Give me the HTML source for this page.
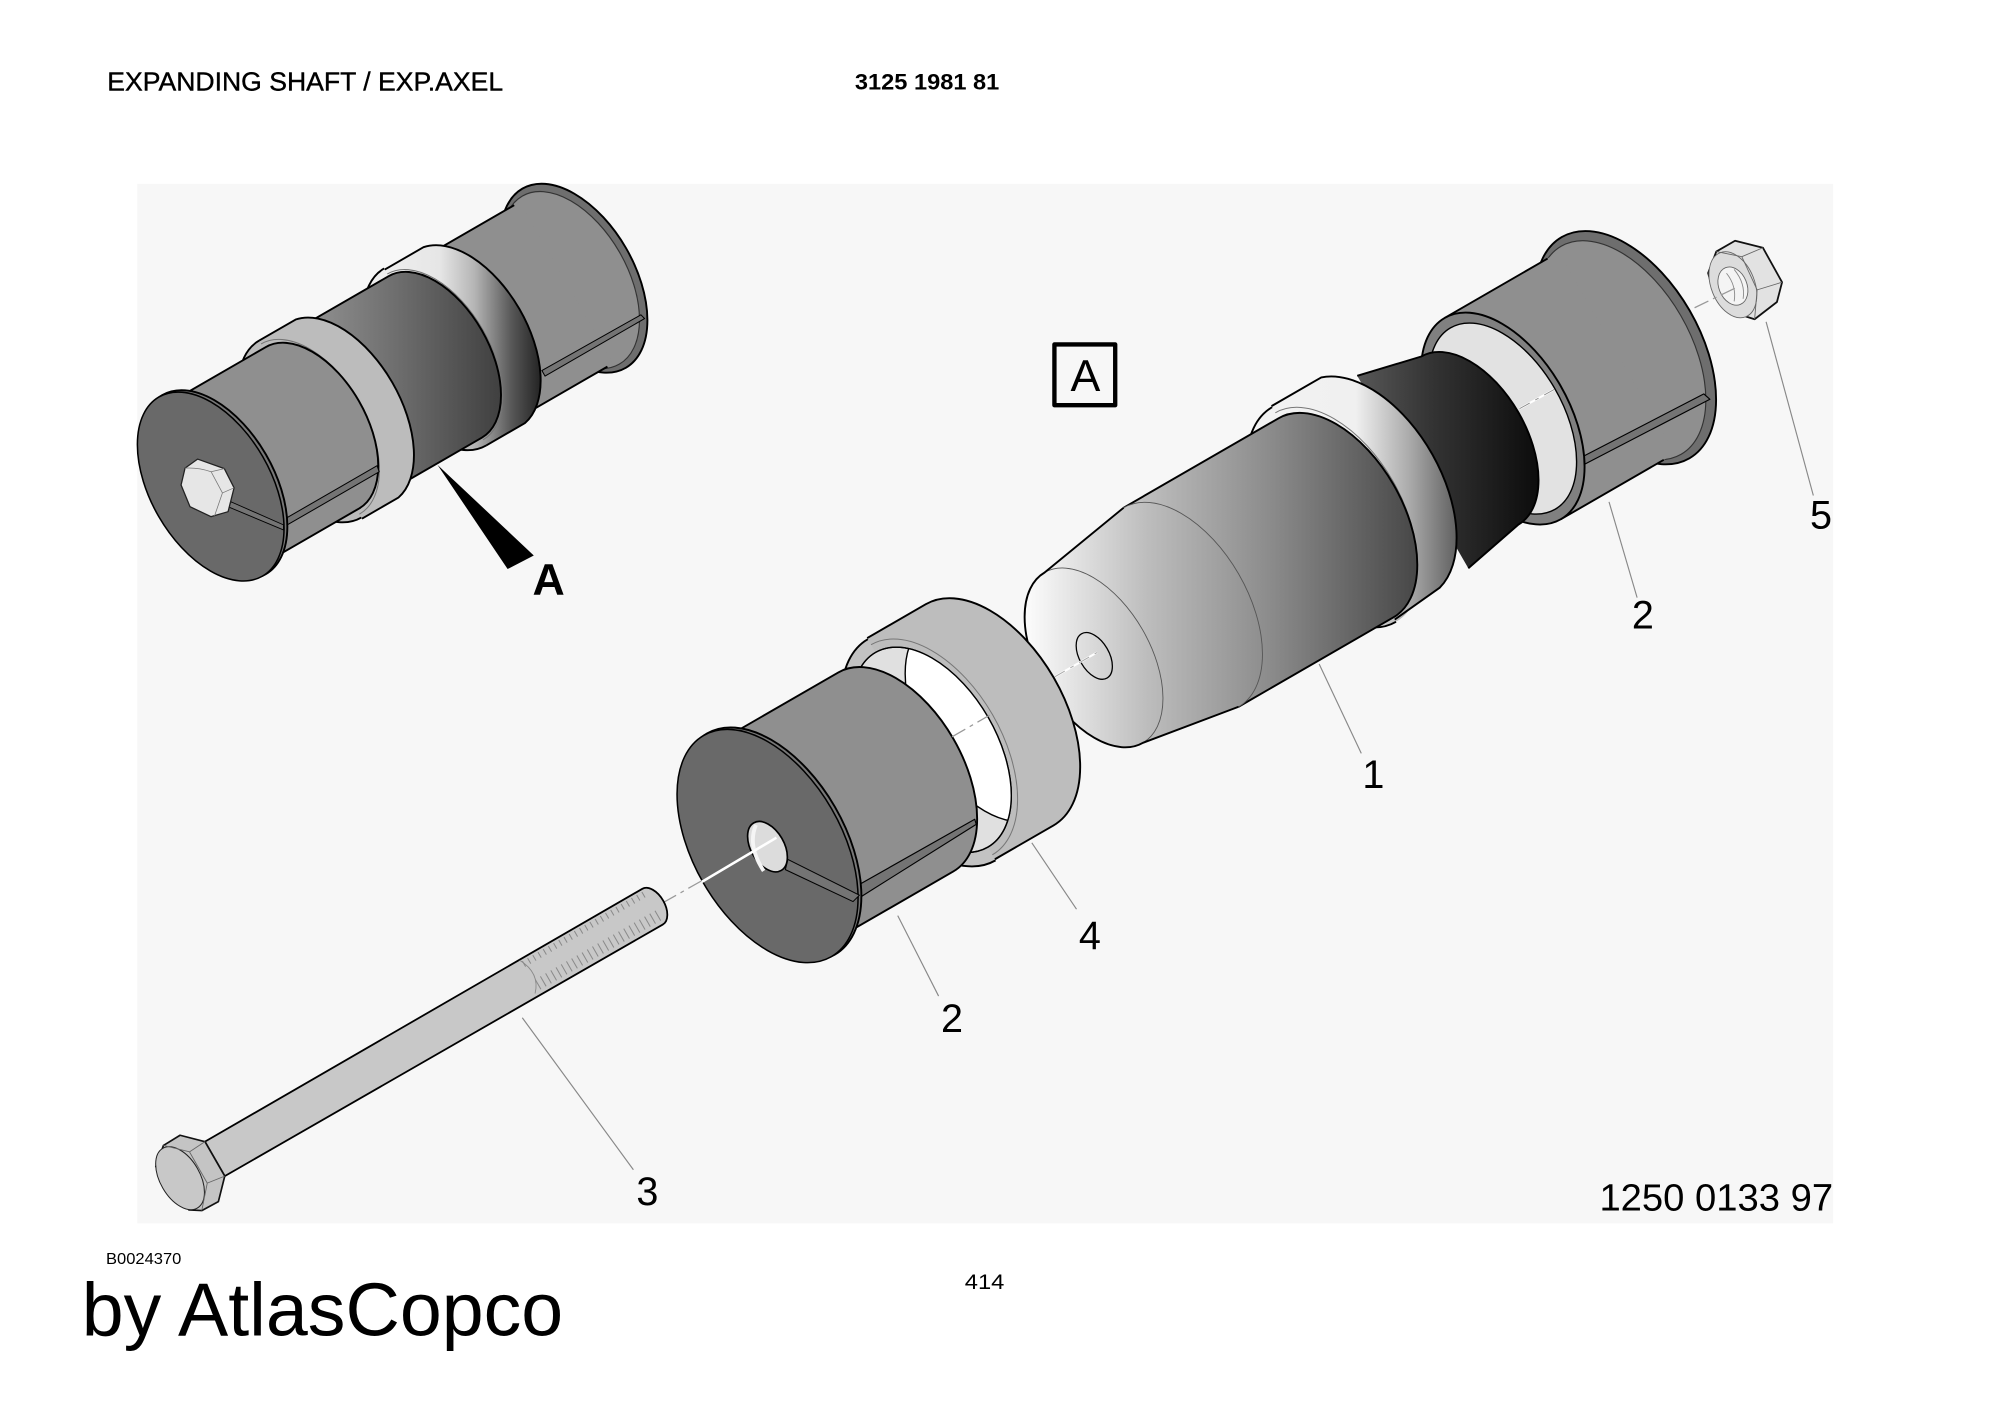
<!DOCTYPE html>
<html><head><meta charset="utf-8"><title>Expanding shaft</title>
<style>html,body{margin:0;padding:0;background:#fff}svg{display:block}text{font-family:"Liberation Sans",sans-serif;fill:#000}</style></head>
<body>
<svg xmlns="http://www.w3.org/2000/svg" width="2000" height="1415" viewBox="0 0 2000 1415">
<defs>
<linearGradient id="gMain" gradientUnits="userSpaceOnUse" x1="805" y1="0" x2="1115" y2="0" gradientTransform="rotate(30) translate(-860 -513)">
<stop offset="0" stop-color="#fbfbfb"/><stop offset=".3" stop-color="#bdbdbd"/><stop offset=".62" stop-color="#8a8a8a"/><stop offset="1" stop-color="#444"/></linearGradient>
<linearGradient id="gRing" gradientUnits="userSpaceOnUse" x1="985" y1="0" x2="1155" y2="0" gradientTransform="rotate(30) translate(-860 -513)">
<stop offset="0" stop-color="#f2f2f2"/><stop offset=".45" stop-color="#f0f0f0"/><stop offset=".7" stop-color="#aaa"/><stop offset="1" stop-color="#444"/></linearGradient>
<linearGradient id="gDark" gradientUnits="userSpaceOnUse" x1="1067" y1="0" x2="1205" y2="0" gradientTransform="rotate(30) translate(-860 -513)">
<stop offset="0" stop-color="#555"/><stop offset=".4" stop-color="#333"/><stop offset="1" stop-color="#0c0c0c"/></linearGradient>
<linearGradient id="aBody" gradientUnits="userSpaceOnUse" x1="240" y1="0" x2="392" y2="0" gradientTransform="rotate(30) translate(-165 -381)">
<stop offset="0" stop-color="#929292"/><stop offset=".45" stop-color="#6f6f6f"/><stop offset="1" stop-color="#404040"/></linearGradient>
<linearGradient id="aRing" gradientUnits="userSpaceOnUse" x1="290" y1="0" x2="426" y2="0" gradientTransform="rotate(30) translate(-165 -381)">
<stop offset="0" stop-color="#f0f0f0"/><stop offset=".4" stop-color="#e6e6e6"/><stop offset=".6" stop-color="#b5b5b5"/><stop offset=".82" stop-color="#555"/><stop offset="1" stop-color="#1e1e1e"/></linearGradient>
<clipPath id="ringHole"><ellipse cx="-150" cy="-1" rx="51" ry="88"/></clipPath>
</defs>
<g transform="scale(1.277)" stroke-linejoin="round" stroke-linecap="butt">
<rect width="1567" height="1109" fill="#fff"/>
<rect x="107.5" y="144" width="1328" height="814" fill="#f7f7f7"/>

<!-- assembled view -->
<g transform="translate(165 381) rotate(-30)" stroke="#000" stroke-width="1.5">
<ellipse cx="328" cy="1" rx="47" ry="81" fill="#6e6e6e"/>
<ellipse cx="325" cy="1" rx="44" ry="76" fill="#8f8f8f" stroke="#333" stroke-width=".9"/>
<path d="M238,-72 L321,-72 L321,74 L238,74Z" fill="#8f8f8f" stroke="none"/>
<path d="M238,-72 L316,-72 M238,74 L316,74" fill="none"/>
<path d="M270,51 L359,52 L360,56 L270,56Z" fill="#747474" stroke-width=".8"/>
<ellipse cx="203" cy="0" rx="46" ry="80" fill="url(#aRing)" stroke="none"/>
<path d="M203,-79 L238,-79 A46,80 0 0 1 238,80 L203,80" fill="url(#aRing)"/>
<path d="M203,-80 A46,80 0 0 0 203,80" fill="none"/>
<path d="M203,-75 A43,75 0 0 1 203,75" fill="none" stroke="#777" stroke-width=".8"/>
<path d="M92,-73 L203,-73 A42,73 0 0 1 203,73 L92,73" fill="url(#aBody)"/>
<ellipse cx="90" cy="0" rx="46" ry="80" fill="#bcbcbc" stroke="none"/>
<path d="M90,-80 L123,-80 A46,81 0 0 1 123,81 L90,81" fill="#bcbcbc"/>
<path d="M90,-80 A46,80 0 0 0 90,80" fill="none"/>
<path d="M90,-77 A44,77 0 0 1 90,77" fill="none" stroke="#777" stroke-width=".8"/>
<path d="M18,-73 L92,-73 A42,73 0 0 1 92,73 L18,73" fill="#8f8f8f"/>
<path d="M36,51 L121,51 L120,56 L36,56Z" fill="#747474" stroke-width=".8"/>
<ellipse cx="3" cy="0" rx="47" ry="81" fill="#777"/>
<ellipse cx="0" cy="0" rx="47" ry="81" fill="#696969" stroke-width="1.2"/>
</g>
<path d="M181,393 L222,411 L222,415 L179,397Z" fill="#747474" stroke="#000" stroke-width=".7"/>
<path d="M154.7,359.5 L175.7,367 L183.3,382 L178.6,400.7 L165.3,404.6 L148.8,396.8 L141.8,379.8 L144.9,366.6Z" fill="#e6e6e6" stroke="#222" stroke-width="1"/>
<path d="M144.9,366.6 Q155,366 165.3,369.4 L175.7,367 M165.3,369.4 L174.2,386 L183.3,382 M174.2,386 L168,404" fill="none" stroke="#777" stroke-width=".6"/>
<path d="M342.6,364 L418,435 L397.5,445.6Z" fill="#000"/>
<text x="417" y="466" font-size="35" font-weight="bold">A</text>

<!-- nut -->
<path d="M1358.7,188.5 L1380.5,194 L1395.5,221 L1391.5,236.5 L1374,250 L1355,244 L1340.6,224.7 L1337.6,213.8 L1344,197Z" fill="#e2e2e2" stroke="#111" stroke-width="1.4"/>
<ellipse cx="1357" cy="223" rx="17" ry="27" transform="rotate(-22 1357 223)" fill="#dcdcdc" stroke="#666" stroke-width=".7"/>
<ellipse cx="1357" cy="224" rx="11" ry="15.5" transform="rotate(-22 1357 224)" fill="#f4f4f4" stroke="#666" stroke-width=".7"/>
<path d="M1344,197 L1364,201 L1380.5,194 M1364,201 L1376,227 L1395.5,221 M1376,227 L1374,250" fill="none" stroke="#666" stroke-width=".7"/>
<path d="M1352,214 Q1360,224 1358,236 M1358,211 Q1367,222 1365,234" fill="none" stroke="#888" stroke-width=".7"/>

<!-- main body group -->
<g transform="translate(860 513) rotate(-30)" stroke="#000" stroke-width="1.5">
<!-- right part 2 -->
<ellipse cx="478" cy="-2" rx="58" ry="100" fill="#6e6e6e"/>
<ellipse cx="474" cy="-2" rx="54" ry="94" fill="#8f8f8f" stroke="#333" stroke-width=".9"/>
<path d="M367,-93 L470,-93 L470,89 L367,89Z" fill="#8f8f8f" stroke="none"/>
<path d="M367,-93 L460,-93 M367,89 L460,89" fill="none"/>
<path d="M405,55 L513,60 L515,66 L405,61Z" fill="#747474" stroke-width=".9"/>
<ellipse cx="367" cy="-2" rx="52" ry="91" fill="#808080"/>
<ellipse cx="367" cy="-2" rx="47" ry="82" fill="#e2e2e2" stroke-width="1.1"/>
<!-- dark cone -->
<path d="M285,-88 L336,-76 A44,76 0 0 1 336,76 L285,86" fill="url(#gDark)"/>
<!-- white ring -->
<ellipse cx="215" cy="-3" rx="56" ry="97" fill="url(#gRing)" stroke="none"/>
<path d="M215,-101 L260,-101 A56,96 0 0 1 258,88 L215,92" fill="url(#gRing)"/>
<path d="M215,-100 A56,97 0 0 0 215,94" fill="none"/>
<path d="M215,-95 A53,92 0 0 1 215,89" fill="none" stroke="#777" stroke-width=".8"/>
<!-- body -->
<path d="M75,-90 L215,-90 A52,90 0 0 1 215,90 L75,90" fill="url(#gMain)"/>
<!-- nose -->
<path d="M-4,-77 L75,-90 A52,90 0 0 1 75,90 L-4,77 A44,77 0 0 1 -4,-77Z" fill="url(#gMain)" stroke="none"/>
<path d="M75,-90 A52,90 0 0 1 75,90" fill="none" stroke="#555" stroke-width=".7"/>
<path d="M-4,-77 A44,77 0 0 1 -4,77" fill="none" stroke="#555" stroke-width=".7"/>
<path d="M75,-90 L-4,-77 A44,77 0 0 0 -4,77 L75,90" fill="none"/>
<ellipse cx="-3" cy="-1" rx="11.6" ry="20" fill="none" stroke-width="1"/>
<!-- ring 4 -->
<ellipse cx="-150" cy="-1" rx="58" ry="100" fill="#c2c2c2" stroke="none"/>
<path d="M-150,-102 L-97,-102 A58,100 0 0 1 -97,98 L-150,98" fill="#bdbdbd"/>
<path d="M-150,-101 A58,100 0 0 0 -150,99" fill="none"/>
<path d="M-150,-96 A55,95 0 0 1 -150,94" fill="none" stroke="#777" stroke-width=".8"/>
<ellipse cx="-150" cy="-1" rx="51" ry="88" fill="#e0e0e0" stroke-width="1.1"/>
<ellipse cx="-102" cy="-1" rx="51" ry="88" fill="#fff" stroke-width="1.1" clip-path="url(#ringHole)"/>
<ellipse cx="-150" cy="-1" rx="51" ry="88" fill="none" stroke-width="1.1"/>
<!-- front part 2 -->
<path d="M-285,-90 L-183,-90 A52,90 0 0 1 -183,90 L-285,90" fill="#8f8f8f"/>
<path d="M-254,62 L-148,63 L-149,67 L-256,71Z" fill="#747474" stroke-width=".9"/>
<ellipse cx="-296" cy="0" rx="58" ry="100" fill="#777"/>
<ellipse cx="-299" cy="0" rx="58" ry="100" fill="#696969" stroke-width="1.2"/>
</g>
<path d="M617,673 L673,701 L668,706 L615,681Z" fill="#747474" stroke="#000" stroke-width=".8"/>
<ellipse cx="601" cy="663" rx="13" ry="21.5" transform="rotate(-30 601 663)" fill="#dcdcdc" stroke="#000" stroke-width="1.3"/>
<path d="M592,646 Q585,662 598,682" fill="none" stroke="#f5f5f5" stroke-width="3"/>

<!-- center lines -->
<g fill="none" stroke-width="1">
<path d="M519,707 L549,690" stroke="#999" stroke-dasharray="12 4 3 4"/>
<path d="M549.6,690.6 L608,656" stroke="#fff" stroke-width="2"/>
<path d="M745.5,577 L775,560" stroke="#999" stroke-dasharray="12 4 3 4"/>
<path d="M826,530 L859,511" stroke="#fff" stroke-width="1.6"/>
<path d="M826,530 L859,511" stroke="#aaa" stroke-dasharray="9 5 3 5" stroke-width=".8"/>
<path d="M1190,320 L1217,305" stroke="#fff" stroke-width="1.6"/>
<path d="M1190,320 L1217,305" stroke="#888" stroke-dasharray="9 5 3 5" stroke-width=".7"/>
<path d="M1327,241 L1359,225.5" stroke="#999" stroke-dasharray="12 4 3 4"/>
</g>

<!-- bolt -->
<path d="M160.5,894 L503,696 A9.5,16 -30 0 1 519,724 L176,921Z" fill="#c8c8c8" stroke="#000" stroke-width="1.4"/>
<path d="M410,755 L505,700" fill="none" stroke="#8a8a8a" stroke-width="5" stroke-dasharray=".8 3.9"/>
<path d="M421,771 L517,716" fill="none" stroke="#8a8a8a" stroke-width="9" stroke-dasharray=".8 3.9"/>
<path d="M407,752 Q423,762 419,778" fill="none" stroke="#888" stroke-width=".7"/>
<path d="M141,889 L160.5,894 L176,921 L171,941 L158,948 L148,947.5 L122,913.6 L128,897Z" fill="#c4c4c4" stroke="#111" stroke-width="1.3"/>
<ellipse cx="141" cy="922.6" rx="15.6" ry="27" transform="rotate(-30 141 922.6)" fill="#c8c8c8" stroke="#222" stroke-width=".8"/>
<path d="M128,897 L148.4,902 L160.5,894 M148.4,902 L162.3,926.5 L176,921 M162.3,926.5 L158,948" fill="none" stroke="#666" stroke-width=".7"/>

<!-- leaders -->
<g fill="none" stroke="#888" stroke-width=".9">
<path d="M1033,520 L1066,590"/>
<path d="M1260,393 L1282,468"/>
<path d="M1383,252 L1420,388"/>
<path d="M808,660 L843,712"/>
<path d="M703,717 L735,780"/>
<path d="M409,797 L496,916"/>
</g>
<rect x="825.7" y="269.7" width="47.6" height="47.6" fill="none" stroke="#000" stroke-width="3.4"/>
<text x="850" y="306" font-size="35" text-anchor="middle">A</text>
<g font-size="31" text-anchor="middle">
<text x="1075.5" y="617">1</text>
<text x="1286.5" y="492">2</text>
<text x="1426" y="414">5</text>
<text x="853.5" y="743">4</text>
<text x="745.5" y="808">2</text>
<text x="507" y="943.5">3</text>
</g>
<text x="1252.5" y="948" font-size="30" textLength="183" lengthAdjust="spacingAndGlyphs">1250 0133 97</text>
<text x="84" y="71" font-size="20.5" textLength="310" lengthAdjust="spacingAndGlyphs" stroke="#000" stroke-width=".3">EXPANDING SHAFT / EXP.AXEL</text>
<text x="669.5" y="70" font-size="17.5" font-weight="bold" textLength="113" lengthAdjust="spacingAndGlyphs">3125 1981 81</text>
<text x="83" y="990" font-size="12.5" textLength="59" lengthAdjust="spacingAndGlyphs">B0024370</text>
<text x="755.5" y="1009.5" font-size="17" textLength="31" lengthAdjust="spacingAndGlyphs">414</text>
<text x="64" y="1046" font-size="58.5" textLength="377" lengthAdjust="spacingAndGlyphs">by AtlasCopco</text>
</g>
</svg>
</body></html>
